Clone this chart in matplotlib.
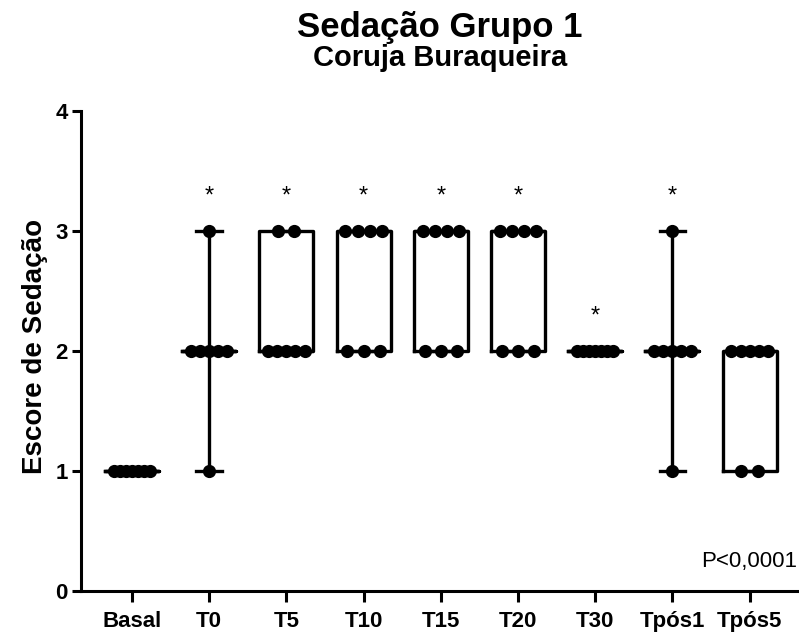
import numpy as np
import matplotlib
matplotlib.use("Agg")
import matplotlib.pyplot as plt

plt.rcParams["font.family"] = ["Liberation Sans", "DejaVu Sans"]

# scores per time point (7 animals)
groups = ["Basal", "T0", "T5", "T10", "T15", "T20", "T30", "Tpós1", "Tpós5"]
basal = [1, 1, 1, 1, 1, 1, 1]
t0 = [3, 2, 2, 2, 2, 2, 1]
t5 = [3, 3, 2, 2, 2, 2, 2]
t10 = [3, 3, 3, 3, 2, 2, 2]
t15 = [3, 3, 3, 3, 2, 2, 2]
t20 = [3, 3, 3, 3, 2, 2, 2]
t30 = [2, 2, 2, 2, 2, 2, 2]
tpos1 = [3, 2, 2, 2, 2, 2, 1]
tpos5 = [2, 2, 2, 2, 2, 1, 1]
signif = [False, True, True, True, True, True, True, True, False]

data = [basal, t0, t5, t10, t15, t20, t30, tpos1, tpos5]

fig = plt.figure(figsize=(7.99, 6.32), dpi=100)
ax = fig.add_axes([81 / 799, 41 / 632, 718 / 799, 480 / 632])

# box stats, GraphPad style quartiles, whiskers min to max
stats = []
for vals in data:
    v = np.array(vals)
    q1, med, q3 = np.percentile(v, [25, 50, 75], method="weibull")
    stats.append(dict(med=med, q1=q1, q3=q3, whislo=v.min(), whishi=v.max()))

lw = 2.4
ax.bxp(stats, positions=range(len(groups)), widths=0.70, capwidths=0.33,
       showfliers=False,
       boxprops=dict(color="black", linewidth=lw),
       whiskerprops=dict(color="black", linewidth=lw),
       capprops=dict(color="black", linewidth=lw),
       medianprops=dict(color="black", linewidth=lw))

# dots spread horizontally at each score
for i, vals in enumerate(data):
    for score in sorted(set(vals)):
        k = vals.count(score)
        step = min(0.21, 0.47 / (k - 1)) if k > 1 else 0
        xs = i + (np.arange(k) - (k - 1) / 2) * step
        ax.plot(xs, [score] * k, "o", color="black", markersize=9.5,
                markeredgewidth=0, zorder=5)
    if signif[i]:
        ax.text(i, max(vals) + 0.285, "*", ha="center", va="center",
                fontsize=17)

ax.set_xlim(-0.66, 8.64)
ax.set_ylim(0, 4)
ax.set_yticks([0, 1, 2, 3, 4])
ax.set_xticks(range(len(groups)))
ax.set_xticklabels(groups)

for s in ["top", "right"]:
    ax.spines[s].set_visible(False)
for s in ["left", "bottom"]:
    ax.spines[s].set_linewidth(2.2)
ax.tick_params(axis="y", length=6.5, width=2.2, pad=3, labelsize=16)
ax.tick_params(axis="x", length=8, width=2.2, pad=6.5, labelsize=16)
for lab in ax.get_xticklabels() + ax.get_yticklabels():
    lab.set_fontweight("bold")

ax.set_ylabel("Escore de Sedação", fontsize=20, fontweight="bold")
ax.yaxis.set_label_coords(-0.046, 0.51)
ax.text(0.997, 0.0625, "P<0,0001", transform=ax.transAxes, ha="right",
        va="center", fontsize=16)

fig.text(440 / 799, 1 - 27 / 632, "Sedação Grupo 1", ha="center", va="center",
         fontsize=25, fontweight="bold")
fig.text(440 / 799, 1 - 58 / 632, "Coruja Buraqueira", ha="center",
         va="center", fontsize=21, fontweight="bold")

fig.savefig("out.png", dpi=100)
